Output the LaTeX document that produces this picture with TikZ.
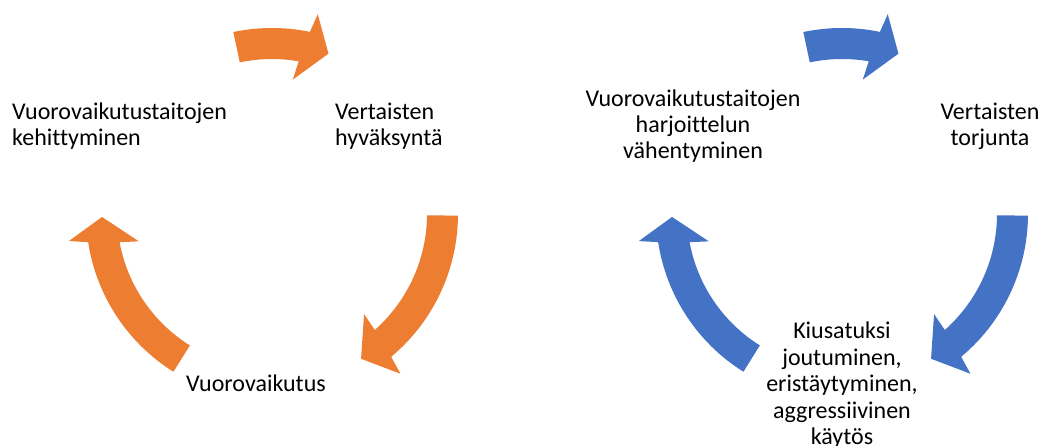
\documentclass[tikz,border=0pt]{standalone}
\usepackage{fontspec}
\setmainfont{Carlito}[Ligatures=NoCommon]
\definecolor{arrorange}{HTML}{ED7D31}
\definecolor{arrblue}{HTML}{4472C4}
% #1 colour, #2 cx, #3 cy, #4 tail angle, #5 head inner-barb angle, #6 head outer-barb angle, #7 tip angle
\newcommand\cycarrow[7]{%
  \pgfmathsetmacro\cyaSi{#5+(#6-#5)*19/69}%
  \pgfmathsetmacro\cyaSo{#5+(#6-#5)*50/69}%
  \fill[#1, shift={(#2pt,#3pt)}]
    (#4:186pt) arc[start angle=#4, end angle=\cyaSo, radius=186pt]
    -- (#6:205pt) -- (#7:170pt) -- (#5:136pt) -- (\cyaSi:155pt)
    arc[start angle=\cyaSi, end angle=#4, radius=155pt] -- cycle;
}
\begin{document}
\begin{tikzpicture}[x=1pt,y=1pt,
  lbl/.style={inner sep=0pt, text=black, font=\fontsize{24}{26.4}\selectfont}]
\useasboundingbox (0,0) rectangle (1045,446);
% left cycle
\cycarrow{arrorange}{272}{232}{102}{81.2}{77.1}{70.6}
\cycarrow{arrorange}{272}{232}{-0.5}{-47.4}{-51.2}{-58.4}
\cycarrow{arrorange}{272}{232}{238}{191.6}{187.6}{181}
\node[lbl, anchor=base west, align=left] (l1) at (12,300) {Vuorovaikutustaitojen\\kehittyminen};
\node[lbl, anchor=base west, align=left] (l2) at (335,300) {Vertaisten\\hyväksyntä};
\node[lbl, anchor=base west] (l3) at (186,54) {Vuorovaikutus};
% right cycle
\cycarrow{arrblue}{842}{232}{102}{81.2}{77.1}{70.6}
\cycarrow{arrblue}{842}{232}{-0.5}{-47.4}{-51.2}{-58.4}
\cycarrow{arrblue}{842}{232}{238}{191.6}{187.6}{181}
\node[lbl, anchor=base, align=center] (r1) at (693,287) {Vuorovaikutustaitojen\\harjoittelun\\vähentyminen};
\node[lbl, anchor=base, align=center] (r2) at (990,300) {Vertaisten\\torjunta};
\node[lbl, anchor=base, align=center] (r3) at (842,1.5) {Kiusatuksi\\joutuminen,\\eristäytyminen,\\aggressiivinen\\käytös};
\end{tikzpicture}
\end{document}
